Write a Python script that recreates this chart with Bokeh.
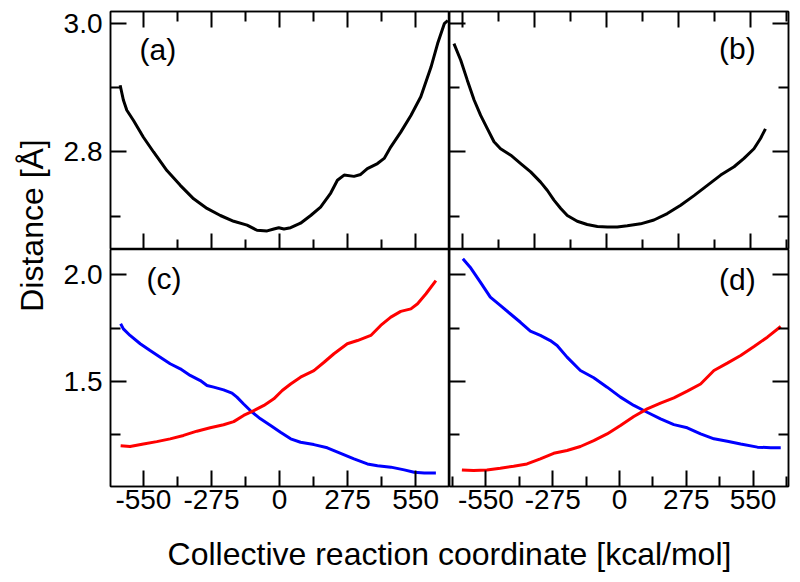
from bokeh.plotting import figure
from bokeh.models import Range1d, LinearAxis, FixedTicker, Label, PrintfTickFormatter
from bokeh.layouts import row, column
from bokeh.embed import file_html
from bokeh.resources import INLINE

FONT = "Liberation Sans"

# ---------------- data ----------------
a_x = [-644, -631, -617, -590, -550, -509, -455, -401, -347, -293, -239, -185, -131, -91, -50, -23, -3, 18, 45, 85,
       126, 166, 207, 234, 261, 301, 328, 355, 396, 423, 450, 490, 531, 571, 612, 639, 666, 680]
a_y = [2.904, 2.881, 2.865, 2.849, 2.823, 2.800, 2.771, 2.748, 2.727, 2.712, 2.701, 2.692, 2.686, 2.678, 2.677,
       2.680, 2.682, 2.680, 2.682, 2.689, 2.701, 2.714, 2.736, 2.756, 2.764, 2.762, 2.765, 2.774, 2.782, 2.790,
       2.808, 2.831, 2.857, 2.886, 2.932, 2.969, 3.000, 3.005]

b_x = [-582, -556, -531, -505, -480, -454, -429, -404, -365, -327, -289, -251, -225, -200, -174, -149, -111, -73,
       -34, 4, 42, 80, 131, 182, 233, 284, 335, 386, 437, 488, 526, 564, 589, 608]
b_y = [2.969, 2.943, 2.912, 2.881, 2.857, 2.836, 2.816, 2.805, 2.795, 2.782, 2.769, 2.753, 2.740, 2.725, 2.712,
       2.701, 2.692, 2.687, 2.684, 2.683, 2.683, 2.685, 2.688, 2.694, 2.704, 2.717, 2.732, 2.748, 2.764, 2.777,
       2.790, 2.805, 2.821, 2.836]

c_blue_x = [-642, -631, -604, -563, -523, -482, -442, -401, -361, -320, -293, -266, -226, -192, -172, -145, -118,
            -77, -36, 4, 45, 85, 139, 193, 247, 301, 355, 396, 450, 504, 544, 585, 632]
c_blue_y = [1.770, 1.746, 1.715, 1.676, 1.644, 1.613, 1.582, 1.558, 1.527, 1.503, 1.480, 1.472, 1.459, 1.444,
            1.425, 1.393, 1.362, 1.323, 1.292, 1.260, 1.229, 1.213, 1.202, 1.187, 1.161, 1.135, 1.111, 1.103,
            1.096, 1.083, 1.072, 1.069, 1.069]
c_red_x = [-642, -604, -550, -496, -442, -388, -334, -280, -226, -185, -145, -104, -63, -23, 11, 45, 85, 139, 180,
           220, 274, 315, 369, 409, 450, 490, 531, 558, 592, 632]
c_red_y = [1.197, 1.193, 1.205, 1.216, 1.229, 1.245, 1.265, 1.281, 1.295, 1.310, 1.339, 1.362, 1.386, 1.417,
           1.456, 1.487, 1.519, 1.550, 1.589, 1.629, 1.676, 1.691, 1.715, 1.762, 1.801, 1.828, 1.840, 1.864,
           1.911, 1.973]

d_blue_x = [-645, -615, -573, -532, -491, -450, -408, -367, -326, -285, -257, -216, -161, -106, -51, 4, 59, 114,
            169, 224, 279, 334, 389, 444, 499, 568, 623, 664]
d_blue_y = [2.075, 2.036, 1.966, 1.895, 1.856, 1.817, 1.777, 1.735, 1.715, 1.691, 1.668, 1.613, 1.550, 1.516,
            1.472, 1.425, 1.386, 1.354, 1.323, 1.296, 1.281, 1.252, 1.229, 1.218, 1.205, 1.190, 1.187, 1.187]
d_red_x = [-649, -601, -546, -491, -436, -381, -326, -271, -216, -161, -106, -51, 4, 59, 114, 169, 224, 279, 334,
           389, 444, 499, 554, 609, 664]
d_red_y = [1.083, 1.080, 1.083, 1.091, 1.100, 1.111, 1.135, 1.161, 1.174, 1.193, 1.221, 1.252, 1.292, 1.334,
           1.370, 1.397, 1.422, 1.453, 1.487, 1.550, 1.585, 1.621, 1.663, 1.707, 1.757]

x_ticks = [-550, -275, 0, 275, 550]
x_minor = [-687.5, -412.5, -137.5, 137.5, 412.5, 687.5]
top_ticks = [2.8, 3.0]
top_minor = [2.7, 2.9]
bot_ticks = [1.5, 2.0]
bot_minor = [1.25, 1.75]

panel_labels = ["(a)", "(b)", "(c)", "(d)"]
y_title = "Distance [Å]"
x_title = "Collective reaction coordinate [kcal/mol]"

# ---------------- layout constants (page has no margin of its own) ----------------
FW = 339
FH_TOP = 238
FH_BOT = 237
LEFT = 52
RIGHT = 8
TOP = 11
BOTTOM = 40
STRIP_W = 58
XSTRIP_H = 56

XR_LEFT = (-683, 687)
XR_B = (-599, 696)
XR_D = (-700, 696)
YR_TOP = (2.648, 3.019)
YR_BOT = (1.005, 2.119)


def make_axis(ticks, minor, labels, fmt="%.1f"):
    ax = LinearAxis()
    ax.ticker = FixedTicker(ticks=ticks, minor_ticks=minor)
    ax.formatter = PrintfTickFormatter(format=fmt)
    ax.major_tick_in = 16
    ax.major_tick_out = 0
    ax.minor_tick_in = 10
    ax.minor_tick_out = 0
    ax.major_tick_line_width = 2
    ax.minor_tick_line_width = 2
    ax.major_tick_line_color = "black"
    ax.minor_tick_line_color = "black"
    ax.axis_line_color = "black"
    ax.axis_line_width = 1.5
    if labels:
        ax.major_label_text_font = FONT
        ax.major_label_text_font_size = "28px"
        ax.major_label_text_color = "black"
    else:
        ax.major_label_text_font_size = "0px"
        ax.major_label_standoff = 0
        ax.major_label_overrides = {t: "" for t in ticks}
    return ax


def make_fig(xr, yr, fh, bl, br, bt, bb):
    p = figure(x_range=Range1d(*xr), y_range=Range1d(*yr), frame_width=FW, frame_height=fh,
               output_backend="svg", toolbar_location=None, x_axis_location=None, y_axis_location=None,
               min_border=0, min_border_left=bl, min_border_right=br, min_border_top=bt,
               min_border_bottom=bb)
    p.grid.visible = False
    p.outline_line_color = "black"
    p.outline_line_width = 1.5
    p.background_fill_color = "white"
    p.border_fill_color = "white"
    return p


def add_label(p, text, fx, fy, align):
    xr, yr = p.x_range, p.y_range
    p.add_layout(Label(x=xr.start + fx * (xr.end - xr.start), y=yr.start + fy * (yr.end - yr.start),
                       text=text, text_font=FONT, text_font_size="30px", text_color="black",
                       text_align=align, text_baseline="middle"))


# panel a
fa = make_fig(XR_LEFT, YR_TOP, FH_TOP, LEFT, 0, TOP, 0)
ax = make_axis(top_ticks, top_minor, True)
ax.major_label_standoff = 8
fa.add_layout(ax, "left")
fa.add_layout(make_axis(x_ticks, x_minor, False, "%d"), "above")
fa.add_layout(make_axis(x_ticks, x_minor, False, "%d"), "below")
fa.line(a_x, a_y, line_color="black", line_width=3)
add_label(fa, panel_labels[0], 0.0855, 0.84, "left")

# panel b
fb = make_fig(XR_B, YR_TOP, FH_TOP, 0, RIGHT, TOP, 0)
fb.add_layout(make_axis(top_ticks, top_minor, False), "left")
fb.add_layout(make_axis(top_ticks, top_minor, False), "right")
fb.add_layout(make_axis(x_ticks, x_minor, False, "%d"), "above")
fb.add_layout(make_axis(x_ticks, x_minor, False, "%d"), "below")
fb.line(b_x, b_y, line_color="black", line_width=3)
add_label(fb, panel_labels[1], 0.903, 0.845, "right")

# panel c
fc = make_fig(XR_LEFT, YR_BOT, FH_BOT, LEFT, 0, 0, BOTTOM)
ax = make_axis(bot_ticks, bot_minor, True)
ax.major_label_standoff = 8
fc.add_layout(ax, "left")
ax = make_axis(x_ticks, x_minor, True, "%d")
ax.major_label_standoff = 3
fc.add_layout(ax, "below")
fc.line(c_blue_x, c_blue_y, line_color="#0000ff", line_width=3)
fc.line(c_red_x, c_red_y, line_color="#ff0000", line_width=3)
add_label(fc, panel_labels[2], 0.106, 0.878, "left")

# panel d
fd = make_fig(XR_D, YR_BOT, FH_BOT, 0, RIGHT, 0, BOTTOM)
fd.add_layout(make_axis(bot_ticks, bot_minor, False), "left")
fd.add_layout(make_axis(bot_ticks, bot_minor, False), "right")
ax = make_axis(x_ticks, x_minor, True, "%d")
ax.major_label_standoff = 3
fd.add_layout(ax, "below")
fd.line(d_blue_x, d_blue_y, line_color="#0000ff", line_width=3)
fd.line(d_red_x, d_red_y, line_color="#ff0000", line_width=3)
add_label(fd, panel_labels[3], 0.903, 0.873, "right")

GRID_H = TOP + FH_TOP + FH_BOT + BOTTOM
TOTAL_W = STRIP_W + LEFT + FW + FW + RIGHT


def strip(w, h):
    s = figure(x_range=Range1d(0, w), y_range=Range1d(0, h), frame_width=w, frame_height=h,
               output_backend="svg", toolbar_location=None, x_axis_location=None, y_axis_location=None,
               min_border=0)
    s.grid.visible = False
    s.outline_line_color = None
    s.background_fill_color = "white"
    s.border_fill_color = "white"
    return s


ys = strip(STRIP_W, GRID_H)
ys.add_layout(Label(x=31, y=GRID_H - 225, text=y_title, angle=1.5707963267948966, text_font=FONT,
                    text_font_size="32px", text_color="black", text_align="center",
                    text_baseline="middle"))

xs = strip(TOTAL_W, XSTRIP_H)
xs.add_layout(Label(x=449, y=XSTRIP_H - 27, text=x_title, text_font=FONT, text_font_size="32px",
                    text_color="black", text_align="center", text_baseline="middle"))

grid = column(row(fa, fb), row(fc, fd))
layout = column(row(ys, grid), xs)

open("out.html", "w").write(file_html(layout, INLINE))
